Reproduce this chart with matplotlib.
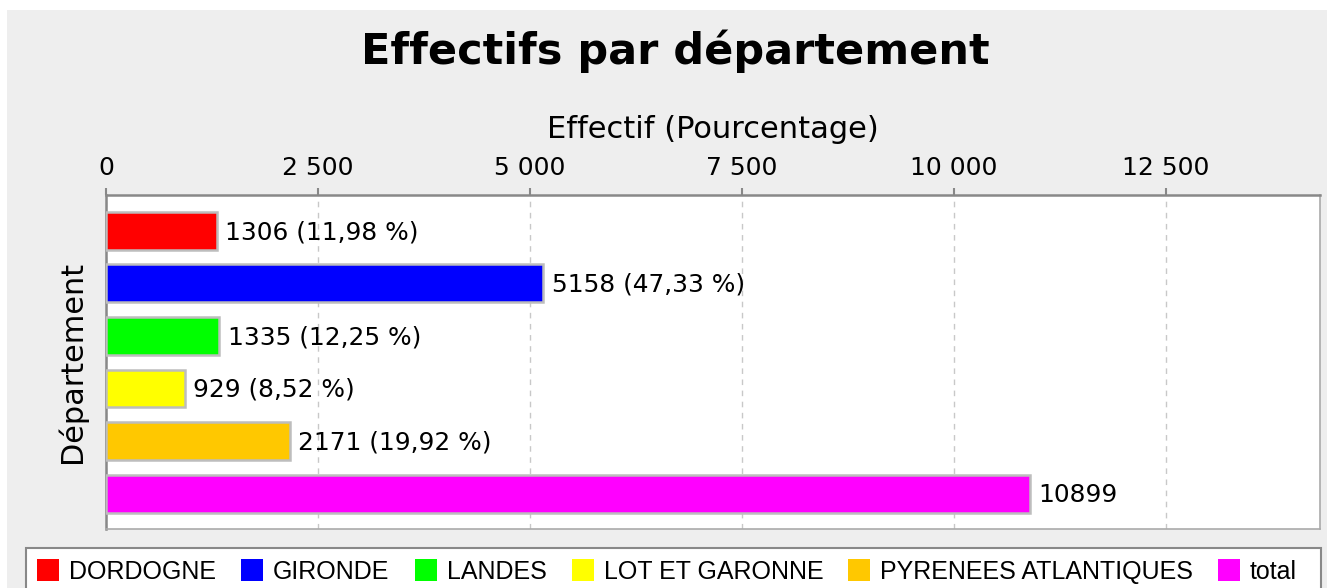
import matplotlib
matplotlib.use("Agg")
import matplotlib.pyplot as plt
from matplotlib.patches import Patch, Rectangle
from matplotlib.ticker import FuncFormatter, MultipleLocator

departements = ['DORDOGNE', 'GIRONDE', 'LANDES', 'LOT ET GARONNE',
                'PYRENEES ATLANTIQUES', 'total']
effectifs = [1306, 5158, 1335, 929, 2171, 10899]
pourcentages = [11.98, 47.33, 12.25, 8.52, 19.92, None]
couleurs = ['#ff0000', '#0000ff', '#00ff00', '#ffff00', '#ffc800', '#ff00ff']

W, H = 1327, 588
fig = plt.figure(figsize=(W / 100, H / 100), dpi=100)
fig.patch.set_facecolor('white')
# grey panel behind the chart
fig.add_artist(Rectangle((7 / W, 0), 1, 1 - 10 / H, transform=fig.transFigure,
                         facecolor='#eeeeee', edgecolor='none', zorder=-10))

ax = fig.add_axes([106 / W, 59 / H, 1214 / W, 334 / H])
ax.set_facecolor('white')

pos = list(range(len(departements)))
ax.barh(pos, effectifs, height=0.72, color=couleurs, edgecolor='#bdbdbd',
        linewidth=1.8, zorder=3)

# value labels
for i, (v, p) in enumerate(zip(effectifs, pourcentages)):
    if p is None:
        txt = f'{v}'
    else:
        txt = f'{v} ({p:.2f} %)'.replace('.', ',')
    ax.annotate(txt, (v, i), xytext=(6, -1), textcoords='offset points',
                va='center', ha='left', fontsize=17.9, zorder=4)

ax.set_ylim(len(departements) - 1 + 0.67, -0.68)
ax.set_xlim(0, 14316)
ax.set_yticks([])

ax.xaxis.set_major_locator(MultipleLocator(2500))
ax.xaxis.set_major_formatter(FuncFormatter(lambda x, _: f'{int(x):,}'.replace(',', ' ')))
ax.xaxis.tick_top()
ax.xaxis.set_label_position('top')
ax.tick_params(axis='x', length=5, width=1.5, color='#888888', labelsize=18, pad=6)
ax.set_xlabel('Effectif (Pourcentage)', fontsize=22, labelpad=13)
ax.set_ylabel('Département', fontsize=21.8, labelpad=14)

ax.grid(axis='x', color='#c8c8c8', linestyle=(0, (4, 4)), linewidth=1, zorder=0)

for s in ['top', 'left']:
    ax.spines[s].set_color('#888888')
    ax.spines[s].set_linewidth(1.8)
for s in ['right', 'bottom']:
    ax.spines[s].set_color('#aaaaaa')
    ax.spines[s].set_linewidth(1.2)

fig.text(0.509, 1 - 51 / H, 'Effectifs par département', ha='center', va='center',
         fontsize=31, fontweight='bold')

# legend box (cut by the bottom edge of the image)
fig.add_artist(Rectangle((26 / W, -0.05), 1295 / W, 0.05 + 1 - 548 / H,
                         transform=fig.transFigure, facecolor='white',
                         edgecolor='#888888', linewidth=1.5, zorder=-5))
handles = [Patch(facecolor=c, edgecolor='none') for c in couleurs]
leg = fig.legend(handles, departements, loc='upper left', ncol=6,
                 bbox_to_anchor=(26 / W, 1 - 548 / H),
                 borderaxespad=0, frameon=False,
                 prop={'family': 'Liberation Sans', 'size': 18},
                 handlelength=0.88, handleheight=0.95, handletextpad=0.4,
                 columnspacing=1.0, borderpad=0.45)

fig.savefig('out.png', dpi=100)
